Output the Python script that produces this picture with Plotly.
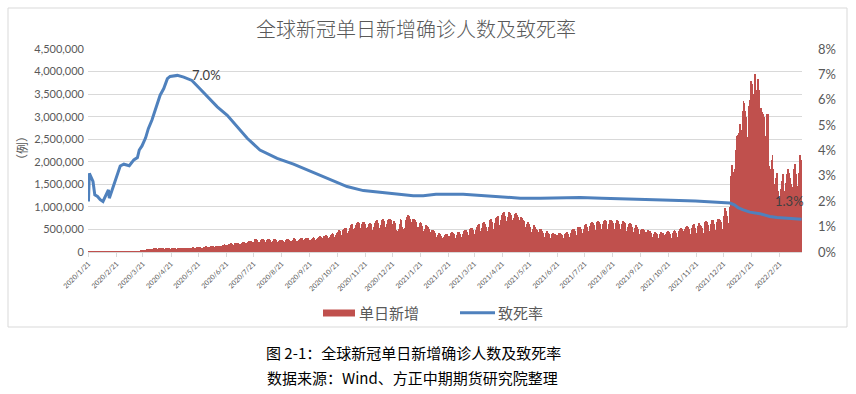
import datetime as dt
import pandas as pd
import plotly.graph_objects as go

# ---------------- data ----------------
start_date = "2020-01-21"

# daily new confirmed cases, in thousands (one row = one week, Tue..Mon)
daily_new_k = [
    0.1, 0.3, 0.3, 0.5, 0.7, 0.8, 1.4,
    1.8, 1.5, 2.0, 2.1, 2.6, 2.8, 3.2,
    3.9, 3.7, 3.2, 3.4, 2.7, 2.6, 2.5,
    2.0, 2.0, 15.1, 6.4, 2.6, 2.1, 2.0,
    1.9, 0.6, 0.9, 1.0, 0.6, 0.9, 0.6,
    0.9, 1.0, 1.3, 1.4, 1.8, 1.9, 1.8,
    2.3, 2.6, 2.7, 2.8, 4.0, 3.9, 4.0,
    4.5, 4.8, 7.0, 10.0, 10.7, 11.0, 13.7,
    15, 21, 27, 30, 33, 36, 40,
    41, 48, 58, 63, 65, 60, 58,
    66, 73, 78, 84, 82, 73, 68,
    73, 84, 86, 92, 84, 78, 72,
    71, 80, 88, 92, 86, 78, 75,
    74, 80, 85, 90, 88, 78, 74,
    76, 85, 88, 93, 88, 80, 76,
    79, 90, 93, 96, 92, 82, 79,
    84, 92, 97, 100, 98, 88, 84,
    94, 104, 108, 111, 104, 96, 92,
    95, 104, 117, 122, 126, 109, 104,
    110, 122, 128, 133, 131, 116, 108,
    118, 135, 138, 140, 142, 128, 122,
    140, 150, 162, 178, 160, 140, 145,
    158, 168, 182, 190, 186, 165, 158,
    170, 190, 205, 210, 198, 180, 176,
    188, 210, 220, 232, 222, 200, 192,
    208, 226, 240, 255, 245, 220, 210,
    225, 255, 282, 286, 258, 232, 212,
    228, 260, 288, 285, 264, 238, 208,
    230, 262, 282, 290, 268, 232, 214,
    238, 262, 285, 290, 262, 232, 210,
    234, 258, 276, 272, 252, 218, 206,
    228, 262, 280, 285, 262, 236, 218,
    246, 270, 290, 306, 280, 248, 230,
    236, 276, 296, 312, 302, 266, 240,
    258, 292, 304, 320, 306, 272, 248,
    268, 298, 320, 330, 312, 276, 262,
    284, 318, 332, 346, 330, 288, 276,
    300, 348, 362, 370, 360, 304, 290,
    322, 376, 398, 412, 396, 340, 322,
    380, 420, 448, 484, 460, 384, 368,
    426, 480, 514, 542, 522, 430, 408,
    470, 536, 590, 610, 590, 500, 474,
    530, 600, 638, 658, 638, 536, 500,
    560, 610, 660, 668, 630, 530, 500,
    560, 620, 640, 610, 600, 490, 470,
    560, 650, 680, 700, 650, 540, 500,
    590, 680, 700, 730, 690, 560, 510,
    610, 720, 730, 740, 700, 550, 520,
    620, 690, 640, 480, 460, 450, 500,
    620, 730, 720, 560, 520, 500, 540,
    720, 780, 830, 800, 740, 620, 560,
    660, 730, 740, 720, 660, 560, 480,
    560, 640, 660, 640, 580, 470, 440,
    500, 590, 580, 560, 500, 410, 380,
    450, 490, 480, 460, 420, 340, 310,
    380, 420, 400, 400, 360, 300, 280,
    330, 380, 390, 390, 360, 300, 290,
    360, 420, 440, 430, 400, 320, 300,
    370, 440, 450, 440, 400, 330, 310,
    400, 470, 480, 480, 450, 370, 350,
    440, 520, 540, 540, 480, 400, 380,
    480, 560, 590, 620, 560, 460, 420,
    530, 640, 660, 620, 560, 460, 430,
    560, 660, 720, 740, 660, 520, 480,
    640, 760, 780, 800, 750, 600, 580,
    720, 830, 860, 880, 800, 680, 640,
    780, 870, 880, 870, 820, 700, 660,
    760, 850, 860, 830, 780, 660, 620,
    700, 780, 760, 720, 680, 560, 520,
    620, 670, 650, 620, 560, 450, 430,
    520, 590, 560, 520, 480, 380, 360,
    450, 500, 500, 460, 420, 340, 320,
    420, 460, 440, 420, 390, 320, 300,
    390, 420, 410, 400, 370, 300, 290,
    380, 420, 420, 410, 380, 320, 300,
    390, 430, 440, 450, 410, 340, 320,
    420, 480, 500, 510, 460, 380, 360,
    480, 550, 560, 560, 500, 420, 400,
    520, 590, 610, 600, 560, 460, 440,
    580, 640, 660, 650, 600, 490, 470,
    600, 660, 680, 670, 620, 500, 480,
    620, 680, 700, 690, 640, 520, 490,
    620, 700, 710, 690, 640, 520, 480,
    640, 700, 700, 680, 620, 500, 470,
    620, 680, 670, 650, 580, 470, 440,
    560, 620, 640, 610, 560, 440, 400,
    530, 580, 590, 560, 500, 400, 370,
    480, 520, 510, 490, 450, 360, 340,
    440, 480, 470, 460, 420, 330, 310,
    410, 440, 440, 420, 390, 310, 300,
    400, 440, 430, 420, 380, 300, 290,
    410, 450, 460, 440, 400, 320, 310,
    430, 470, 480, 460, 420, 340, 330,
    460, 520, 530, 510, 460, 370, 350,
    500, 560, 570, 560, 500, 400, 380,
    540, 600, 610, 600, 540, 430, 410,
    580, 640, 600, 580, 540, 430, 420,
    580, 660, 680, 660, 600, 470, 450,
    620, 700, 720, 690, 620, 490, 470,
    660, 730, 740, 720, 660, 520, 510,
    700, 800, 980, 900, 800, 640, 650,
    1000, 1680, 1920, 1720, 1150, 1770, 1850,
    2260, 2570, 2600, 2640, 2830, 2450, 2700,
    3130, 3350, 3300, 3130, 3000, 2500, 2550,
    3240, 3380, 3790, 3720, 3010, 2460, 3500,
    3940, 3600, 3570, 3830, 3600, 2600, 3200,
    3090, 3100, 3050, 3000, 2570, 2100, 3050,
    3050, 1900, 1460, 1830, 2050, 2160, 1830,
    1420, 1500, 1640, 1750, 1350, 1200, 1010,
    1390, 1570, 1650, 1720, 1350, 1010, 1530,
    1720, 1830, 1750, 1640, 1500, 1310, 1390,
    1450, 1830, 1940, 1720, 1460, 1300, 1750,
    2160, 2000, 2050,
]

# case fatality rate (%) at selected dates
rate_dates = [
    "2020-01-21", "2020-01-22", "2020-01-26", "2020-01-28", "2020-01-31",
    "2020-02-03", "2020-02-06", "2020-02-09", "2020-02-12", "2020-02-13",
    "2020-02-16", "2020-02-20", "2020-02-25", "2020-02-29", "2020-03-06",
    "2020-03-11", "2020-03-15", "2020-03-17", "2020-03-20", "2020-03-24",
    "2020-03-27", "2020-03-31", "2020-04-04", "2020-04-07", "2020-04-09",
    "2020-04-13", "2020-04-17", "2020-04-20", "2020-04-28", "2020-05-05",
    "2020-05-14", "2020-05-21", "2020-05-31", "2020-06-11", "2020-06-22",
    "2020-07-03", "2020-07-14", "2020-07-28", "2020-08-16", "2020-09-03",
    "2020-09-21", "2020-10-14", "2020-11-01", "2020-11-19", "2020-12-08",
    "2020-12-26", "2021-01-13", "2021-01-24", "2021-02-07", "2021-03-09",
    "2021-03-28", "2021-04-19", "2021-05-11", "2021-06-02", "2021-07-16",
    "2021-08-09", "2021-08-31", "2021-10-15", "2021-11-20", "2021-12-15",
    "2021-12-28", "2022-01-02", "2022-01-06", "2022-01-11", "2022-01-19",
    "2022-01-30", "2022-02-10", "2022-02-18", "2022-03-01", "2022-03-12",
    "2022-03-17",
]
rate_values = [
    1.99, 3.10, 2.78, 2.25, 2.19,
    2.06, 1.99, 2.19, 2.45, 2.12,
    2.45, 2.84, 3.39, 3.46, 3.40,
    3.63, 3.72, 4.02, 4.18, 4.50,
    4.86, 5.20, 5.65, 6.00, 6.18,
    6.44, 6.83, 6.92, 6.96, 6.89,
    6.76, 6.50, 6.11, 5.72, 5.39,
    4.93, 4.48, 4.02, 3.69, 3.46,
    3.20, 2.87, 2.58, 2.42, 2.35,
    2.28, 2.22, 2.22, 2.28, 2.28,
    2.23, 2.18, 2.12, 2.12, 2.15,
    2.12, 2.09, 2.05, 2.01, 1.97,
    1.93, 1.86, 1.75, 1.67, 1.57,
    1.51, 1.40, 1.36, 1.34, 1.30,
    1.29,
]

tick_labels = [
    "2020/1/21", "2020/2/21", "2020/3/21", "2020/4/21", "2020/5/21", "2020/6/21",
    "2020/7/21", "2020/8/21", "2020/9/21", "2020/10/21", "2020/11/21", "2020/12/21",
    "2021/1/21", "2021/2/21", "2021/3/21", "2021/4/21", "2021/5/21", "2021/6/21",
    "2021/7/21", "2021/8/21", "2021/9/21", "2021/10/21", "2021/11/21", "2021/12/21",
    "2022/1/21", "2022/2/21",
]

left_ticks = [0, 500000, 1000000, 1500000, 2000000, 2500000, 3000000, 3500000, 4000000, 4500000]
right_ticks = [0, 1, 2, 3, 4, 5, 6, 7, 8]

# ---------------- figure ----------------
GRAY = "#595959"
GRID = "#d9d9d9"
RED = "#C0504D"
BLUE = "#4F81BD"
CJK = "Noto Sans CJK SC"
NUM = "Lato, Noto Sans CJK SC"

dates = pd.date_range(start_date, periods=len(daily_new_k), freq="D")
cases = [v * 1000 for v in daily_new_k]
tickvals = [dt.datetime.strptime(s, "%Y/%m/%d") for s in tick_labels]
x_range = [dates[0] - pd.Timedelta(hours=12), dates[-1] + pd.Timedelta(hours=12)]

fig = go.Figure()
fig.add_trace(go.Bar(x=dates, y=cases, name="单日新增", marker=dict(color=RED, line=dict(width=0)),
                     yaxis="y"))
fig.add_trace(go.Scatter(x=pd.to_datetime(rate_dates), y=rate_values, name="致死率", mode="lines",
                         line=dict(color=BLUE, width=3), yaxis="y2"))

W, H = 856, 394
L, R, T, B = 88, 54, 49, 142
pw, ph = W - L - R, H - T - B


def px(xp):
    return (xp - L) / pw


def py(yp):
    return (H - B - yp) / ph


fig.update_layout(
    width=W, height=H,
    margin=dict(l=L, r=R, t=T, b=B, autoexpand=False),
    paper_bgcolor="white", plot_bgcolor="white",
    bargap=0, showlegend=False,
    font=dict(family=CJK, color=GRAY),
    xaxis=dict(type="date", range=x_range, tickmode="array", tickvals=tickvals, ticktext=tick_labels,
               tickangle=-45, tickfont=dict(family=NUM, size=7, color=GRAY),
               showgrid=False, showline=True, linecolor=GRID, linewidth=1,
               ticks="outside", ticklen=4, tickcolor=GRID, zeroline=False, automargin=False),
    yaxis=dict(range=[0, 4500000], tickmode="array", tickvals=left_ticks,
               ticktext=[f"{v:,}" for v in left_ticks],
               tickfont=dict(family=NUM, size=11, color=GRAY), showgrid=True, gridcolor=GRID,
               gridwidth=1, zeroline=False, showline=False, ticks="", automargin=False,
               ticklabelstandoff=3),
    yaxis2=dict(range=[0, 8], overlaying="y", side="right", tickmode="array", tickvals=right_ticks,
                ticktext=[f"{v}%" for v in right_ticks],
                tickfont=dict(family=NUM, size=13, color=GRAY), showgrid=False,
                zeroline=False, showline=False, ticks="", automargin=False, ticklabelstandoff=15),
)

# data labels (max and last fatality rate)
imax = max(range(len(rate_values)), key=lambda i: rate_values[i])
annotations = [
    dict(x=rate_dates[imax], y=rate_values[imax], xref="x", yref="y2",
         text=f"{rate_values[imax]:.1f}%", showarrow=False, xanchor="left", yanchor="middle",
         xshift=13, font=dict(family=NUM, size=13, color="#404040")),
    dict(x=rate_dates[-1], y=rate_values[-1], xref="x", yref="y2",
         text=f"{rate_values[-1]:.1f}%", showarrow=False, xanchor="center", yanchor="middle",
         xshift=-12, yshift=18, font=dict(family=NUM, size=13, color="#404040")),
    # title
    dict(x=px(416), y=py(29), xref="paper", yref="paper", text="全球新冠单日新增确诊人数及致死率",
         showarrow=False, xanchor="center", yanchor="middle",
         font=dict(family=CJK, size=20, color=GRAY, weight=300)),
    # y axis title
    dict(x=px(21), y=py(148), xref="paper", yref="paper", text="（例）", textangle=-90,
         showarrow=False, xanchor="center", yanchor="middle",
         font=dict(family=CJK, size=12, color=GRAY)),
    # legend labels
    dict(x=px(357), y=py(312.5), xref="paper", yref="paper", text="单日新增", showarrow=False,
         xanchor="left", yanchor="middle", font=dict(family=CJK, size=15, color=GRAY)),
    dict(x=px(496), y=py(312.5), xref="paper", yref="paper", text="致死率", showarrow=False,
         xanchor="left", yanchor="middle", font=dict(family=CJK, size=15, color=GRAY)),
    # caption
    dict(x=px(413.5), y=py(352), xref="paper", yref="paper", text="图 2-1：全球新冠单日新增确诊人数及致死率",
         showarrow=False, xanchor="center", yanchor="middle",
         font=dict(family=CJK, size=15, color="black")),
    dict(x=px(412), y=py(377), xref="paper", yref="paper", text="数据来源：Wind、方正中期期货研究院整理",
         showarrow=False, xanchor="center", yanchor="middle",
         font=dict(family=CJK, size=15, color="black")),
]
fig.update_layout(annotations=annotations)

shapes = [
    # chart-area border
    dict(type="rect", xref="paper", yref="paper", x0=px(8), x1=px(847), y0=py(327), y1=py(8),
         line=dict(color=GRID, width=1), fillcolor="rgba(0,0,0,0)", layer="below"),
    # legend swatches
    dict(type="rect", xref="paper", yref="paper", x0=px(323), x1=px(355), y0=py(316.5), y1=py(309.5),
         line=dict(width=0), fillcolor=RED),
    dict(type="line", xref="paper", yref="paper", x0=px(460), x1=px(495), y0=py(312.8), y1=py(312.8),
         line=dict(color=BLUE, width=3)),
]
fig.update_layout(shapes=shapes)

fig.write_html("out.html", config={"displayModeBar": False},
               post_script="document.body.style.margin='0';")
